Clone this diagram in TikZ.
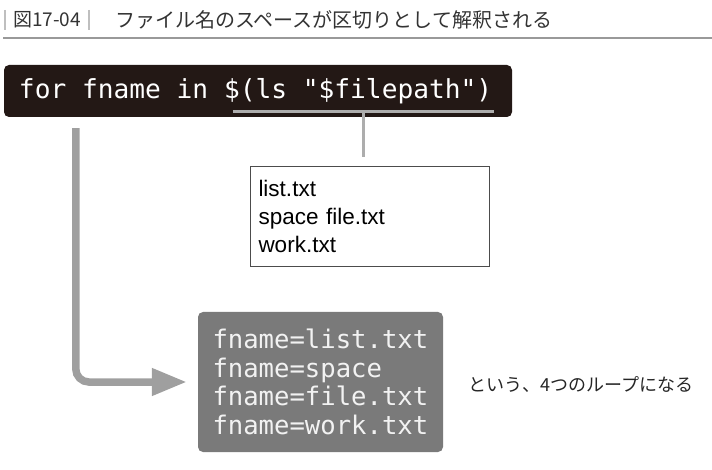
\documentclass[tikz,border=0pt]{standalone}
\usepackage{fontspec}
\usepackage{tikz}
\usetikzlibrary{calc, positioning, arrows.meta}
\usepackage{xcolor}

\newfontfamily\jpfont{Noto Sans CJK JP}
\newfontfamily\codefont{DejaVu Sans Mono}
\newfontfamily\listfont{Liberation Sans}

% one fixed-width blank in the code font
\newcommand\csp{\phantom{x}}

\definecolor{cmdbg}{HTML}{231815}
\definecolor{resbg}{HTML}{7A7A7A}
\definecolor{ulgray}{HTML}{ADADAD}
\definecolor{arrowgray}{HTML}{9F9F9F}
\definecolor{titlegray}{HTML}{333333}

\begin{document}
\begin{tikzpicture}[x=1pt, y=-1pt, font=\jpfont,
    cmdbox/.style={fill=cmdbg, rounded corners=5pt, text=white, align=left,
      text width=478pt, inner xsep=15pt, inner ysep=0pt, minimum height=52pt,
      font=\codefont\fontsize{26.2}{30}\selectfont},
    listbox/.style={draw=black!70, line width=1pt, align=left,
      text width=223pt, inner xsep=8pt, inner ysep=0pt, minimum height=100pt,
      font=\listfont\fontsize{22.5}{28}\selectfont},
    resbox/.style={fill=resbg, rounded corners=5pt, text=black!5, align=left,
      text width=216pt, inner xsep=14.5pt, inner ysep=0pt, minimum height=140pt,
      font=\codefont\fontsize{25.6}{28.5}\selectfont},
    looparrow/.style={draw=arrowgray, line width=7.5pt, rounded corners=13pt,
      shorten <=11pt, shorten >=11pt, -{Triangle[length=35pt, width=26pt]}}]

    \useasboundingbox (0,0) rectangle (712,470);

    % ==========================================
    % TITLE
    % ==========================================

    \node[anchor=west, inner sep=0pt, text=titlegray, font=\jpfont\fontsize{19}{24}\selectfont] (fignum) at (13,20) {図17-04};
    \node[anchor=west, inner sep=0pt, text=titlegray, font=\jpfont\fontsize{20}{24}\selectfont] (title) at (115,20) {ファイル名のスペースが区切りとして解釈される};

    % gray bars round the figure number, and the rule under the title
    \draw[black!25, line width=2.5pt] (5,10) -- (5,30);
    \draw[black!25, line width=2.5pt] (89,10) -- (89,30);
    \draw[black!40, line width=1.5pt] (3,38) -- (712,38);

    % ==========================================
    % COMMAND LINE & FILE LIST
    % ==========================================

    \node[cmdbox] (cmd) at (258,91) {for\csp fname\csp in\csp \$(ls\csp "\$filepath")};

    % underline the command substitution
    \coordinate (ulL) at ($(cmd.south west)+(229,-6)$);
    \coordinate (ulR) at ($(cmd.south west)+(490,-6)$);
    \coordinate (ulmid) at ($(ulL)!.5!(ulR)$);
    \draw[ulgray, line width=3pt] (ulL) -- (ulR);

    \node[listbox, anchor=north west] (list) at (250,166) {list.txt\\space file.txt\\work.txt};

    % from the underline down to the list
    \draw[ulgray, line width=3pt, shorten >=9pt] (ulmid) -- (ulmid |- list.north);

    % ==========================================
    % LOOP VALUES
    % ==========================================

    \node[resbox] (res) at (320.5,382) {fname=list.txt\\fname=space\\fname=file.txt\\fname=work.txt};

    \node[right=25pt of res, inner sep=0pt, yshift=-3pt, text=black!85, font=\jpfont\fontsize{18}{22}\selectfont] (note) {という、4つのループになる};

    % big gray arrow from the for loop to its values
    \coordinate (loop) at ($(cmd.south west)+(72,0)$);
    \draw[looparrow] (loop) |- (res.west);

\end{tikzpicture}
\end{document}
